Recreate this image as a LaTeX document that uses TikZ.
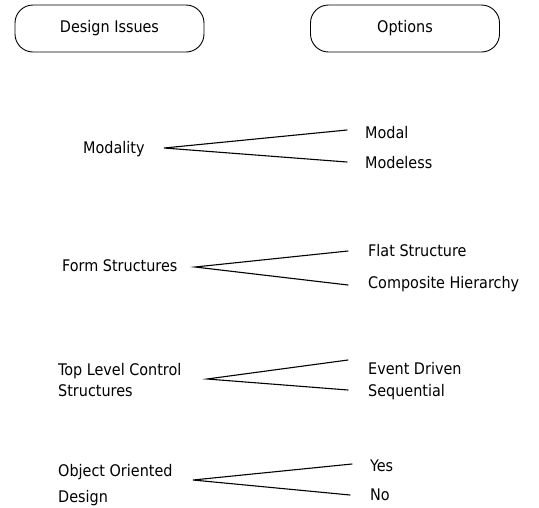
\documentclass[tikz,border=0pt]{standalone}
\usepackage{fontspec}
\setmainfont{DejaVu Sans Condensed}
\begin{document}
\begin{tikzpicture}[x=1pt,y=-1pt,
  every node/.style={font=\fontsize{16}{19}\selectfont},
  header/.style={draw,line width=0.9pt,rounded corners=18pt,
    minimum width=189pt,minimum height=47pt,inner sep=0pt},
  label/.style={anchor=base west,inner sep=0pt},
  branch/.style={line width=1.1pt,line cap=round}]
\useasboundingbox (0,0) rectangle (539,507);

% column headers
\node[header] (issues) at (109.5,28.5) {Design Issues};
\node[header] (options) at (405,28.5) {Options};

% design issues
\node[label] (mod) at (83,153) {Modality};
\node[label] (form) at (62,271) {Form Structures};
\node[label] (tlc) at (58,375) {Top Level Control};
\node[label] (tlcb) at (58,396) {Structures};
\node[label] (oo) at (58,476) {Object Oriented};
\node[label] (oob) at (58,502) {Design};

% options
\node[label] (modal) at (365,138) {Modal};
\node[label] (modeless) at (365,168) {Modeless};
\node[label] (flat) at (368,256) {Flat Structure};
\node[label] (comp) at (368,288) {Composite Hierarchy};
\node[label] (event) at (368,374) {Event Driven};
\node[label] (seq) at (368,396) {Sequential};
\node[label] (yes) at (370,471) {Yes};
\node[label] (no) at (370,500) {No};

% branch points
\coordinate (modB) at (164,148);
\coordinate (formB) at (195,267);
\coordinate (tlcB) at (207,379);
\coordinate (ooB) at (193,480);

% line ends beside each option
\coordinate (modalE) at (347,130);
\coordinate (modelessE) at (347,162);
\coordinate (flatE) at (348,251);
\coordinate (compE) at (348,285);
\coordinate (eventE) at (348,360);
\coordinate (seqE) at (348,390);
\coordinate (yesE) at (352,464);
\coordinate (noE) at (350,495);

\draw[branch] (modalE) -- (modB) -- (modelessE);
\draw[branch] (flatE) -- (formB) -- (compE);
\draw[branch] (eventE) -- (tlcB) -- (seqE);
\draw[branch] (yesE) -- (ooB) -- (noE);
\end{tikzpicture}
\end{document}
